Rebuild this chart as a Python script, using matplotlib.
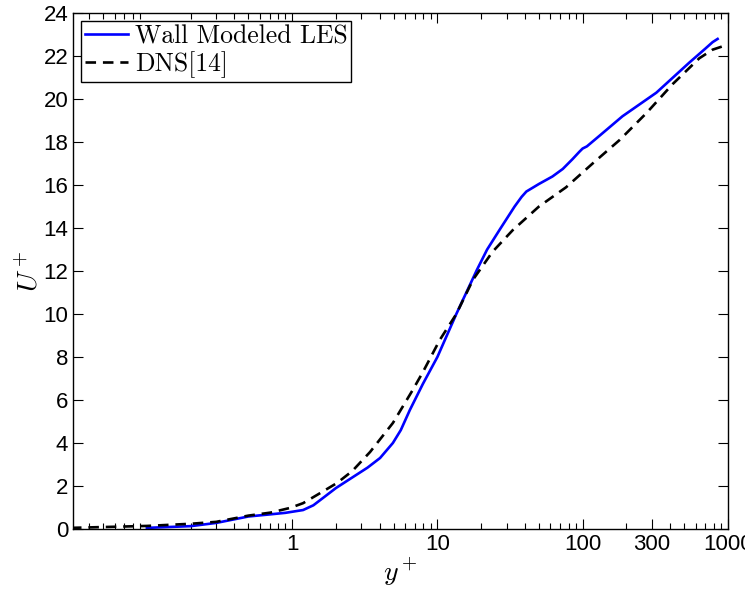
import matplotlib
matplotlib.use("Agg")
import matplotlib.pyplot as plt
from matplotlib.ticker import FixedLocator, LogLocator, NullFormatter

# velocity profiles
wm_yplus = [0.1, 0.2, 0.3, 0.5, 0.71, 0.9, 1.19, 1.4, 1.63, 2.0, 2.63, 3.3,
            4.03, 4.94, 5.6, 6.46, 7.95, 10, 13.5, 18.7, 22, 27, 34, 38, 41,
            50, 62, 73, 85, 95, 100, 107, 131, 188, 322, 543, 700, 785, 850]
wm_uplus = [0.05, 0.13, 0.28, 0.58, 0.68, 0.75, 0.88, 1.1, 1.44, 1.9, 2.42,
            2.85, 3.3, 4.0, 4.6, 5.53, 6.75, 8.0, 10.0, 12.05, 13.0, 13.95,
            15.0, 15.45, 15.7, 16.05, 16.4, 16.75, 17.2, 17.55, 17.7, 17.8,
            18.3, 19.2, 20.3, 21.7, 22.35, 22.65, 22.8]

dns_yplus = [0.03, 0.1, 0.2, 0.3, 0.5, 0.71, 0.97, 1.19, 1.5, 2.04, 2.6, 3.44,
             4.94, 6.77, 7.95, 10.4, 13.5, 17.6, 24, 33, 50, 77, 117, 180, 275,
             417, 636, 785, 915, 1000]
dns_uplus = [0.05, 0.14, 0.24, 0.33, 0.62, 0.76, 0.98, 1.2, 1.6, 2.14, 2.7,
             3.58, 4.93, 6.47, 7.3, 8.8, 10.0, 11.6, 12.9, 13.9, 15.0, 15.9,
             17.0, 18.1, 19.35, 20.7, 21.9, 22.3, 22.45, 22.5]

xtick_vals = [1, 10, 100, 300, 1000]
xtick_labels = ["1", "10", "100", "300", "1000"]
ytick_vals = list(range(0, 25, 2))

plt.rcParams["mathtext.fontset"] = "cm"
plt.rcParams["font.family"] = ["Liberation Sans", "DejaVu Sans"]

fig = plt.figure(figsize=(7.45, 5.97), dpi=100)
ax = fig.add_axes([0.098, 0.114, 0.879, 0.864])

ax.plot(wm_yplus, wm_uplus, color="#0000ff", lw=1.9, label="Wall Modeled LES")
ax.plot(dns_yplus, dns_uplus, color="black", lw=1.9, ls=(0, (4, 2.6)),
        label="DNS[14]")

ax.set_xscale("log")
ax.set_xlim(0.031, 1000)
ax.set_ylim(0, 24)

ax.xaxis.set_major_locator(FixedLocator(xtick_vals))
ax.set_xticklabels(xtick_labels)
ax.xaxis.set_minor_locator(LogLocator(base=10, subs=range(2, 10)))
ax.xaxis.set_minor_formatter(NullFormatter())
ax.set_yticks(ytick_vals)

ax.tick_params(which="both", direction="in", top=True, right=True,
               labelsize=16, width=0.8)
ax.tick_params(which="major", length=7)
ax.tick_params(which="minor", length=4)
for sp in ax.spines.values():
    sp.set_linewidth(1.0)

ax.set_xlabel(r"$y^+$", fontsize=20, labelpad=1)
ax.set_ylabel(r"$U^+$", fontsize=20, labelpad=0)

leg = ax.legend(loc="upper left", prop={"family": "cmr10", "size": 18.5},
                handlelength=1.7, handletextpad=0.25, borderpad=0.15,
                labelspacing=0.1, borderaxespad=0.3, fancybox=False,
                framealpha=1)
leg.get_frame().set_edgecolor("black")
leg.get_frame().set_linewidth(1.0)

fig.savefig("out.png", dpi=100)
